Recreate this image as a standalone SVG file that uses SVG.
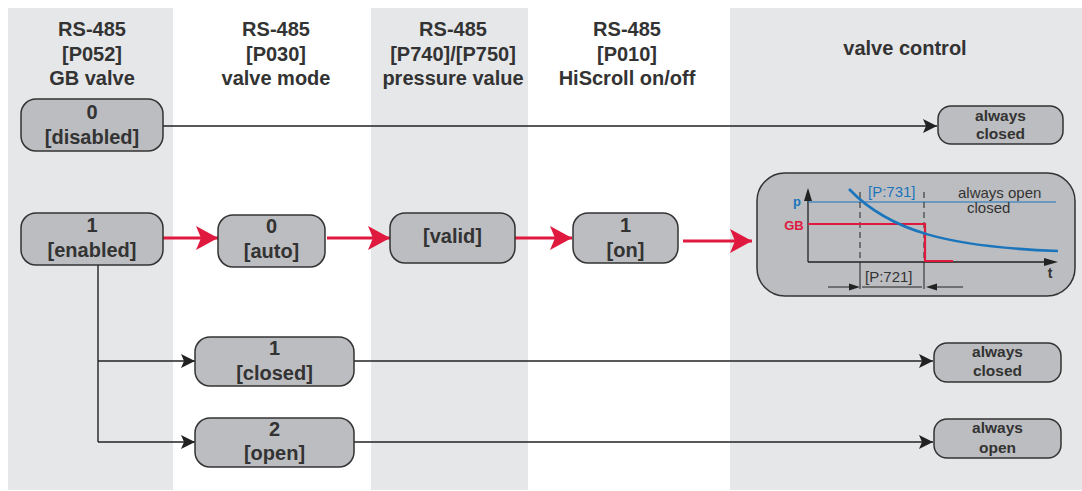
<svg xmlns="http://www.w3.org/2000/svg" width="1082" height="491" viewBox="0 0 1082 491">
<style>
.band{fill:#e6e7e9}
.node{fill:#bcbdc0;stroke:#333;stroke-width:1.5}
.t{font-family:"Liberation Sans",Arial,sans-serif;font-weight:bold;fill:#333;text-anchor:middle}
.h{font-size:20px}
.n{font-size:20px}
.s{font-size:15.5px}
.ln{fill:none;stroke:#222;stroke-width:1.4}
.red{fill:none;stroke:#e0193f;stroke-width:3}
.c{font-family:"Liberation Sans",Arial,sans-serif;font-size:15px}
</style>
<defs>
<marker id="ab" markerUnits="userSpaceOnUse" markerWidth="14" markerHeight="14" refX="14" refY="7" orient="auto" viewBox="0 0 14 14">
<path d="M0,0 L14,7 L0,14 L3,7 z" fill="#222"/>
</marker>
<marker id="ar" markerUnits="userSpaceOnUse" markerWidth="22" markerHeight="24" refX="22" refY="12" orient="auto" viewBox="0 0 22 24">
<path d="M0,0 L22,12 L0,24 L5,12 z" fill="#e0193f"/>
</marker>
</defs>
<rect width="1082" height="491" fill="#fff"/>
<g id="bands">
<rect class="band" x="8" y="8" width="165" height="482"/>
<rect class="band" x="371" y="8" width="157" height="482"/>
<rect class="band" x="730" y="8" width="352" height="482"/>
</g>
<g id="headers">
<text class="t h" x="92" y="36">RS-485</text>
<text class="t h" x="92" y="61">[P052]</text>
<text class="t h" x="92" y="85">GB valve</text>
<text class="t h" x="276" y="36">RS-485</text>
<text class="t h" x="276" y="61">[P030]</text>
<text class="t h" x="276" y="85">valve mode</text>
<text class="t h" x="453" y="36">RS-485</text>
<text class="t h" x="453" y="61">[P740]/[P750]</text>
<text class="t h" x="453" y="85">pressure value</text>
<text class="t h" x="627" y="36">RS-485</text>
<text class="t h" x="627" y="61">[P010]</text>
<text class="t h" x="627" y="85">HiScroll on/off</text>
<text class="t h" x="905" y="55">valve control</text>
</g>
<g id="connectors">
<path class="ln" d="M163,126 H937" marker-end="url(#ab)"/>
<path class="ln" d="M98,265 V442"/>
<path class="ln" d="M98,361 H195" marker-end="url(#ab)"/>
<path class="ln" d="M98,442 H195" marker-end="url(#ab)"/>
<path class="ln" d="M354,361 H933" marker-end="url(#ab)"/>
<path class="ln" d="M354,442 H933" marker-end="url(#ab)"/>
<path class="red" d="M163,238 H218" marker-end="url(#ar)"/>
<path class="red" d="M327,238 H390" marker-end="url(#ar)"/>
<path class="red" d="M515,238 H572" marker-end="url(#ar)"/>
<path class="red" d="M683,241 H752" marker-end="url(#ar)"/>
</g>
<g id="node-disabled">
<rect class="node" x="21" y="99" width="142" height="52" rx="15"/>
<text class="t n" x="92" y="119">0</text>
<text class="t n" x="92" y="144">[disabled]</text>
</g>
<g id="node-enabled">
<rect class="node" x="21" y="213" width="142" height="52" rx="15"/>
<text class="t n" x="92" y="232">1</text>
<text class="t n" x="92" y="257">[enabled]</text>
</g>
<g id="node-auto">
<rect class="node" x="218" y="215" width="107" height="52" rx="15"/>
<text class="t n" x="271.5" y="233">0</text>
<text class="t n" x="271.5" y="258">[auto]</text>
</g>
<g id="node-valid">
<rect class="node" x="390" y="213" width="125" height="50" rx="15"/>
<text class="t n" x="452.5" y="243">[valid]</text>
</g>
<g id="node-on">
<rect class="node" x="573" y="213" width="105" height="50" rx="15"/>
<text class="t n" x="625.5" y="232">1</text>
<text class="t n" x="625.5" y="257">[on]</text>
</g>
<g id="node-closed">
<rect class="node" x="195" y="337" width="159" height="49" rx="15"/>
<text class="t n" x="274.5" y="355">1</text>
<text class="t n" x="274.5" y="380">[closed]</text>
</g>
<g id="node-open">
<rect class="node" x="195" y="418" width="159" height="49" rx="15"/>
<text class="t n" x="274.5" y="436">2</text>
<text class="t n" x="274.5" y="460">[open]</text>
</g>
<g id="node-always-closed-top">
<rect class="node" x="938" y="106" width="125" height="38" rx="13"/>
<text class="t s" x="1000.5" y="121">always</text>
<text class="t s" x="1000.5" y="139">closed</text>
</g>
<g id="node-always-closed">
<rect class="node" x="934" y="343" width="127" height="39" rx="13"/>
<text class="t s" x="997.5" y="357">always</text>
<text class="t s" x="997.5" y="376">closed</text>
</g>
<g id="node-always-open">
<rect class="node" x="934" y="419" width="127" height="39" rx="13"/>
<text class="t s" x="997.5" y="433">always</text>
<text class="t s" x="997.5" y="453">open</text>
</g>
<g id="node-chart">
<rect class="node" x="757" y="173" width="318" height="123" rx="28"/>
<line x1="808" y1="200" x2="808" y2="262" stroke="#222" stroke-width="1.3"/>
<path d="M808,188 L812,201 L804,201 z" fill="#222"/>
<line x1="808" y1="262" x2="1046" y2="262" stroke="#222" stroke-width="1.3"/>
<path d="M1058,262 L1044,266 L1044,258 z" fill="#222"/>
<line x1="808" y1="202" x2="1056" y2="202" stroke="#1b75bc" stroke-width="1.2"/>
<line x1="860" y1="192" x2="860" y2="262" stroke="#222" stroke-width="1" stroke-dasharray="6,4"/>
<line x1="860" y1="262" x2="860" y2="289" stroke="#222" stroke-width="1"/>
<line x1="924" y1="192" x2="924" y2="262" stroke="#222" stroke-width="1" stroke-dasharray="6,4"/>
<line x1="924" y1="262" x2="924" y2="289" stroke="#222" stroke-width="1"/>
<path d="M808,224 H925 V261 H953" fill="none" stroke="#e0193f" stroke-width="2.2"/>
<path d="M849,189 C890,232 950,247 1058,251" fill="none" stroke="#1b75bc" stroke-width="2.6"/>
<text class="c" x="868" y="197" fill="#1b75bc">[P:731]</text>
<text class="c" x="958" y="198" fill="#333">always open</text>
<text class="c" x="967" y="213" fill="#333">closed</text>
<text class="c" x="865" y="282" fill="#333">[P:721]</text>
<text x="797" y="206" font-family="Liberation Sans,Arial,sans-serif" font-weight="bold" font-size="13" fill="#1b75bc" text-anchor="middle">p</text>
<text x="794" y="230" font-family="Liberation Sans,Arial,sans-serif" font-weight="bold" font-size="13" fill="#e0193f" text-anchor="middle">GB</text>
<text x="1050" y="278" font-family="Liberation Sans,Arial,sans-serif" font-weight="bold" font-size="14" fill="#333" text-anchor="middle">t</text>
<line x1="828" y1="287" x2="852" y2="287" stroke="#222" stroke-width="1"/>
<path d="M860,287 L849,290.5 L849,283.5 z" fill="#222"/>
<line x1="862" y1="287" x2="922" y2="287" stroke="#222" stroke-width="1"/>
<line x1="934" y1="287" x2="963" y2="287" stroke="#222" stroke-width="1"/>
<path d="M926,287 L937,290.5 L937,283.5 z" fill="#222"/>
</g>
</svg>
